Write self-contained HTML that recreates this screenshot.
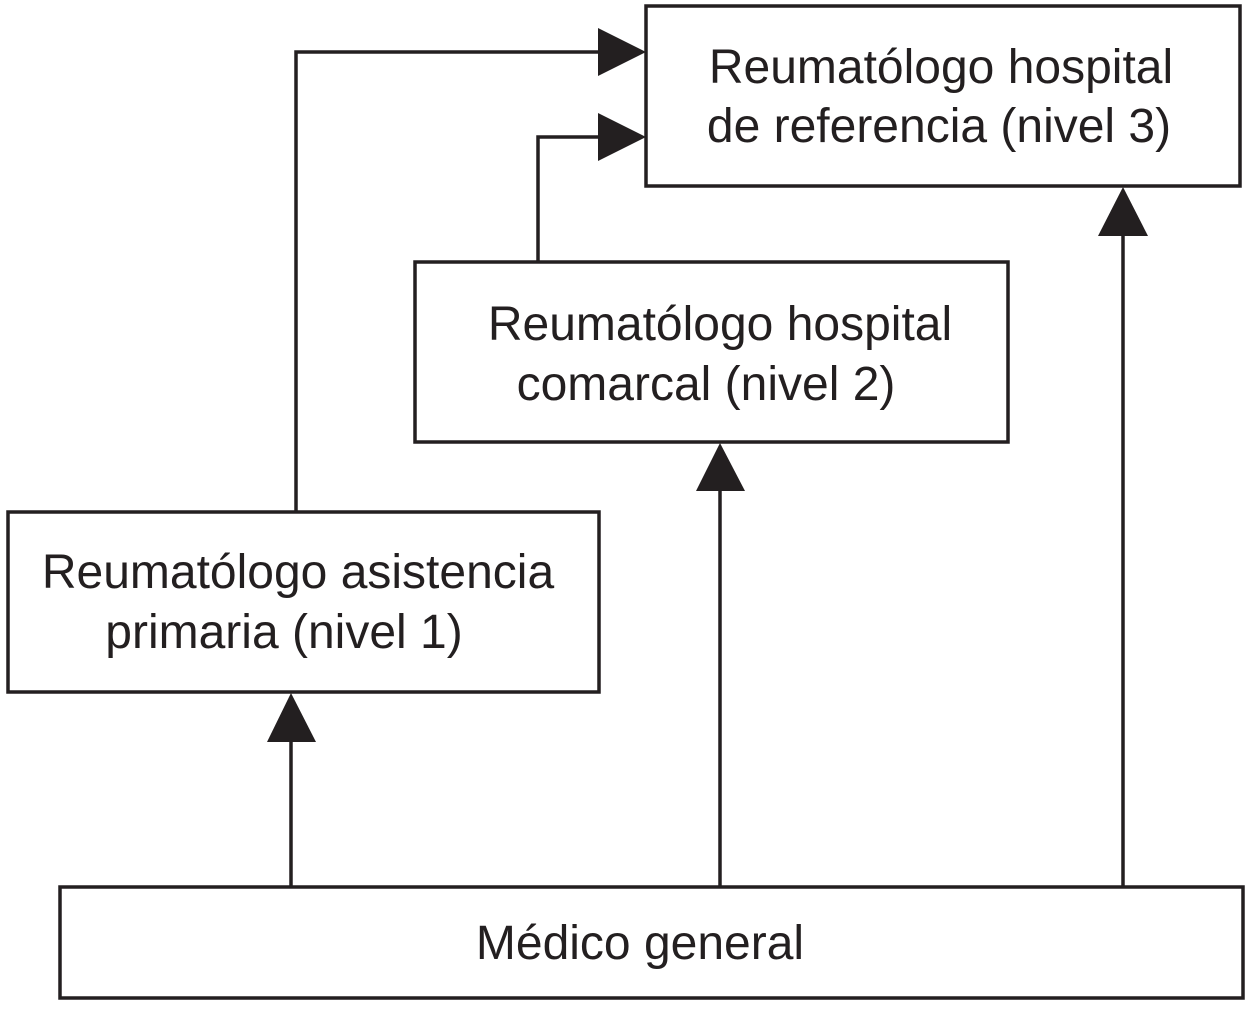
<!DOCTYPE html>
<html><head><meta charset="utf-8"><style>html,body{margin:0;padding:0;background:#fff}</style></head>
<body>
<svg width="1250" height="1006" viewBox="0 0 1250 1006" xmlns="http://www.w3.org/2000/svg" font-family="Liberation Sans, Arial, sans-serif" font-size="48" fill="#231f20">
<g fill="none" stroke="#231f20" stroke-width="3.5">
<rect x="646" y="6" width="594" height="180"/>
<rect x="415" y="262" width="593" height="180"/>
<rect x="8" y="512" width="591" height="180"/>
<rect x="60" y="887" width="1183" height="111"/>
<polyline points="296,512 296,52 600,52"/>
<polyline points="538,262 538,137 600,137"/>
<line x1="1123" y1="887" x2="1123" y2="234"/>
<line x1="720" y1="887" x2="720" y2="488"/>
<line x1="291" y1="887" x2="291" y2="740"/>
</g>
<g fill="#231f20">
<polygon points="646,52 598,28 598,76"/>
<polygon points="646,137 598,113 598,161"/>
<polygon points="1123,187 1098,236 1148,236"/>
<polygon points="720,443 696,491 745,491"/>
<polygon points="291,693 267,742 316,742"/>
</g>
<g text-anchor="middle">
<text x="941" y="83">Reumatólogo hospital</text>
<text x="939" y="142">de referencia (nivel 3)</text>
<text x="720" y="340">Reumatólogo hospital</text>
<text x="706" y="400">comarcal (nivel 2)</text>
<text x="298" y="588">Reumatólogo asistencia</text>
<text x="284" y="648">primaria (nivel 1)</text>
<text x="640" y="959">Médico general</text>
</g>
</svg>
</body></html>
